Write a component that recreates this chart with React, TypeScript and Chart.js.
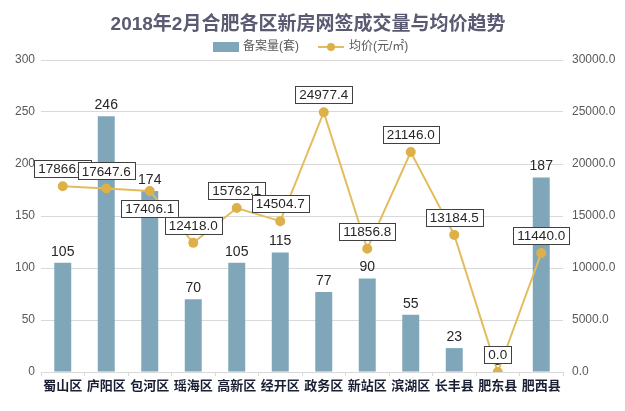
import React, { useEffect, useRef } from "react";
import { Chart, registerables } from "chart.js";

Chart.register(...registerables);

const TITLE = "2018年2月合肥各区新房网签成交量与均价趋势";
const categories = ["蜀山区", "庐阳区", "包河区", "瑶海区", "高新区", "经开区", "政务区", "新站区", "滨湖区", "长丰县", "肥东县", "肥西县"];
const volumeLabel = "备案量(套)";
const priceLabel = "均价(元/㎡)";
const volumes = [105, 246, 174, 70, 105, 115, 77, 90, 55, 23, 0, 187];
const prices = [17866.6, 17647.6, 17406.1, 12418.0, 15762.1, 14504.7, 24977.4, 11856.8, 21146.0, 13184.5, 0.0, 11440.0];
const priceLabelSide = ["above", "above", "below", "above", "above", "above", "above", "above", "above", "above", "above", "above"];

const BAR_COLOR = "#7fa7b9";
const LINE_COLOR = "#e3bc5e";
const POINT_COLOR = "#ddb049";
const FONT = "'Liberation Sans', 'Noto Sans CJK SC', sans-serif";

const overlayPlugin = {
  id: "overlay",
  afterDatasetsDraw(chart: any) {
    const ctx = chart.ctx;
    ctx.save();
    const barMeta = chart.getDatasetMeta(0);
    ctx.font = `14px ${FONT}`;
    ctx.fillStyle = "#262626";
    ctx.textAlign = "center";
    ctx.textBaseline = "bottom";
    barMeta.data.forEach((el: any, i: number) => {
      ctx.fillText(String(volumes[i]), el.x, el.y - 4);
    });
    const lineMeta = chart.getDatasetMeta(1);
    ctx.font = `13.5px ${FONT}`;
    lineMeta.data.forEach((el: any, i: number) => {
      const txt = prices[i].toFixed(1);
      const w = ctx.measureText(txt).width + 8;
      const h = 17;
      const x = el.x - w / 2;
      const y = priceLabelSide[i] === "below" ? el.y + 9 : el.y - 9 - h;
      ctx.fillStyle = "#ffffff";
      ctx.fillRect(x, y, w, h);
      ctx.strokeStyle = "#404040";
      ctx.lineWidth = 1;
      ctx.strokeRect(Math.round(x) + 0.5, Math.round(y) + 0.5, Math.round(w), h);
      ctx.fillStyle = "#262626";
      ctx.textAlign = "center";
      ctx.textBaseline = "middle";
      ctx.fillText(txt, el.x, y + h / 2 + 1);
    });
    ctx.restore();
  },
  afterDraw(chart: any) {
    const ctx = chart.ctx;
    ctx.save();
    ctx.font = `bold 19px ${FONT}`;
    ctx.fillStyle = "#5a5a72";
    ctx.textAlign = "center";
    ctx.textBaseline = "middle";
    ctx.fillText(TITLE, 308, 25);
    ctx.font = `12px ${FONT}`;
    ctx.textAlign = "left";
    ctx.fillStyle = BAR_COLOR;
    ctx.fillRect(213, 42, 26, 10);
    ctx.fillStyle = "#595959";
    ctx.fillText(volumeLabel, 243, 47);
    ctx.strokeStyle = LINE_COLOR;
    ctx.lineWidth = 2;
    ctx.beginPath();
    ctx.moveTo(318, 47);
    ctx.lineTo(344, 47);
    ctx.stroke();
    ctx.fillStyle = POINT_COLOR;
    ctx.beginPath();
    ctx.arc(331, 47, 4, 0, Math.PI * 2);
    ctx.fill();
    ctx.fillStyle = "#595959";
    ctx.fillText(priceLabel, 349, 47);
    ctx.restore();
  },
};

export default function App() {
  const ref = useRef<HTMLCanvasElement>(null);
  useEffect(() => {
    document.body.style.margin = "0";
    const chart = new Chart(ref.current!, {
      data: {
        labels: categories,
        datasets: [
          {
            type: "bar",
            label: volumeLabel,
            data: volumes,
            backgroundColor: BAR_COLOR,
            yAxisID: "y",
            categoryPercentage: 1,
            barPercentage: 0.39,
            order: 2,
          },
          {
            type: "line",
            label: priceLabel,
            data: prices,
            borderColor: LINE_COLOR,
            borderWidth: 2,
            backgroundColor: POINT_COLOR,
            pointBackgroundColor: POINT_COLOR,
            pointBorderColor: POINT_COLOR,
            pointRadius: 4,
            tension: 0,
            yAxisID: "y1",
            order: 1,
          },
        ] as any,
      },
      options: {
        animation: false,
        responsive: false,
        maintainAspectRatio: false,
        layout: { padding: { top: 60, left: 0, right: 0, bottom: 0 } },
        plugins: {
          legend: { display: false },
          title: { display: false },
          tooltip: { enabled: false },
        },
        scales: {
          x: {
            offset: true,
            grid: {
              display: true,
              offset: true,
              drawOnChartArea: false,
              drawTicks: true,
              tickLength: 4,
              color: "#d9d9d9",
            },
            border: { display: true, color: "#d9d9d9" },
            ticks: {
              color: "#1a1f33",
              font: { family: FONT, size: 13, weight: "bold" },
              padding: 3,
              maxRotation: 0,
              autoSkip: false,
            },
            afterFit(scale: any) {
              scale.height = 39;
            },
          },
          y: {
            position: "left",
            min: 0,
            max: 300,
            ticks: {
              stepSize: 50,
              color: "#595959",
              font: { family: FONT, size: 12 },
              padding: 6,
            },
            grid: { color: "#d9d9d9", drawTicks: false },
            border: { display: false },
            afterFit(scale: any) {
              scale.width = 41;
            },
          },
          y1: {
            position: "right",
            min: 0,
            max: 30000,
            ticks: {
              stepSize: 5000,
              color: "#595959",
              font: { family: FONT, size: 12 },
              padding: 9,
              callback: (v: any) => Number(v).toFixed(1),
            },
            grid: { display: false, drawTicks: false },
            border: { display: false },
            afterFit(scale: any) {
              scale.width = 62;
            },
          },
        },
      } as any,
      plugins: [overlayPlugin],
    });
    return () => chart.destroy();
  }, []);
  return (
    <div style={{ width: 625, height: 411, background: "#fff" }}>
      <canvas ref={ref} width={625} height={411} style={{ display: "block" }} />
    </div>
  );
}
